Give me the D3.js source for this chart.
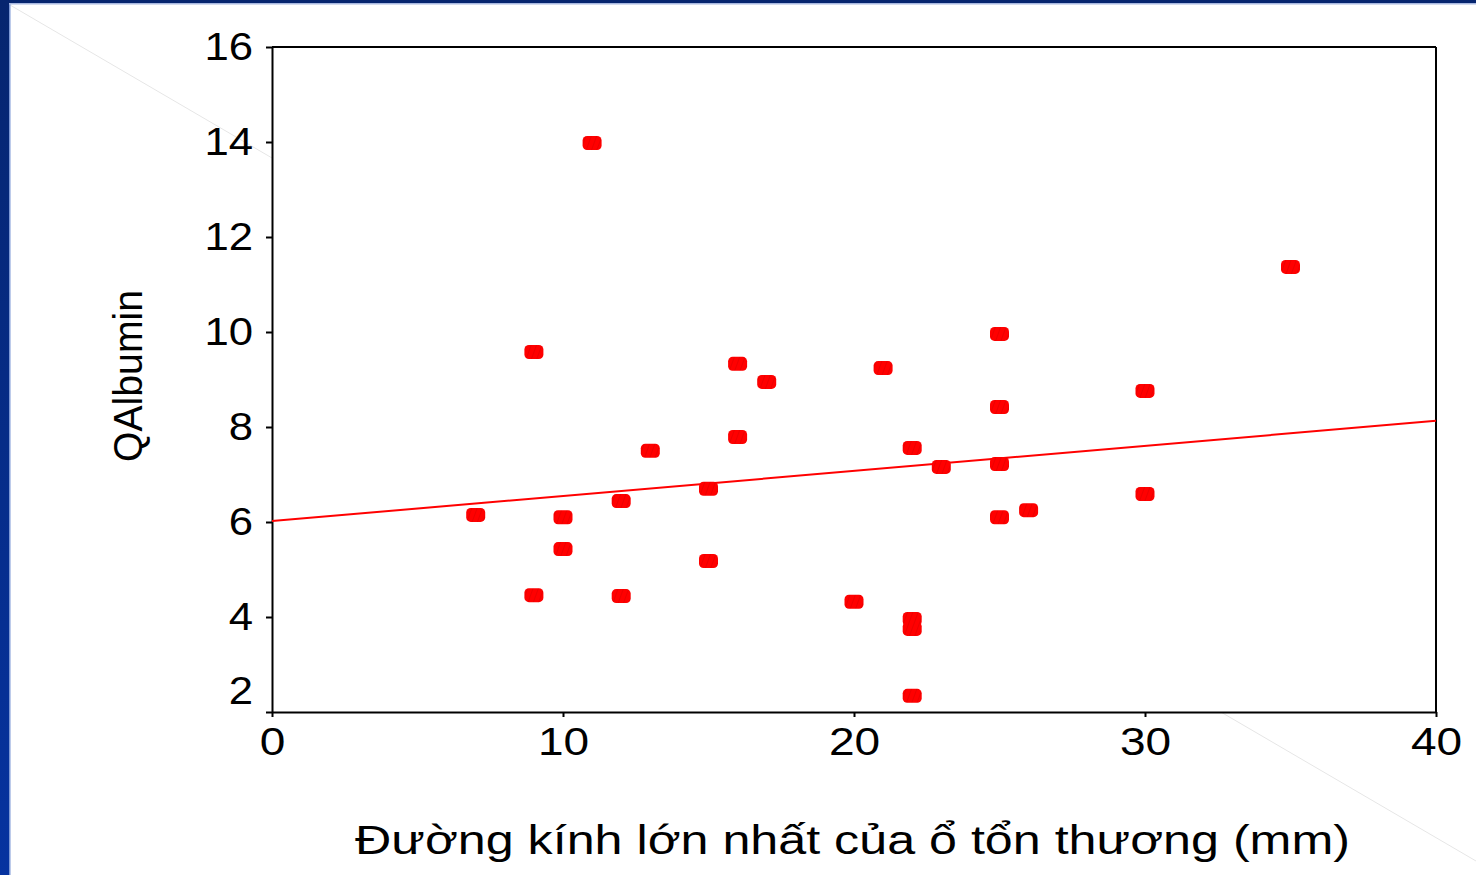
<!DOCTYPE html>
<html>
<head>
<meta charset="utf-8">
<script src="https://cdn.jsdelivr.net/npm/d3@7"></script>
<style>
  body { margin: 0; background: #fff; }
  svg { display: block; }
  .axis text { font-family: "Liberation Sans", Arial, sans-serif; font-size: 39px; fill: #000; }
  .axis path, .axis line { stroke: #000; stroke-width: 2; }
</style>
</head>
<body>
<div id="chart"></div>
<script>
// lesion diameter (mm) and QAlbumin
const diameter = [7, 9, 9, 11, 10, 10, 12, 12, 13, 15, 15, 16, 16, 17, 20, 21, 22, 22, 22, 22, 23, 25, 25, 25, 25, 26, 30, 30, 35];
const qAlbumin = [6.15, 9.58, 4.46, 13.98, 6.1, 5.43, 6.44, 4.44, 7.5, 6.7, 5.18, 9.33, 7.79, 8.95, 4.32, 9.24, 7.56, 3.96, 3.75, 2.34, 7.16, 9.96, 8.42, 7.22, 6.1, 6.25, 8.76, 6.59, 11.37];
// fitted line end points
const fitX = [0, 40];
const fitY = [6.02, 8.13];
const xTicks = [0, 10, 20, 30, 40];
const yTicks = [2, 4, 6, 8, 10, 12, 14, 16];
const xTitle = "Đường kính lớn nhất của ổ tổn thương (mm)";
const yTitle = "QAlbumin";

const W = 1476, H = 875;
const margin = { top: 47, right: 40, bottom: 163, left: 272 };
const width = W - margin.left - margin.right,
    height = H - margin.top - margin.bottom;

let svg = d3.select("#chart")
    .append("svg")
    .attr("width", W)
    .attr("height", H);

// slide frame
let defs = svg.append("defs");
let grad = defs.append("linearGradient").attr("id", "blue").attr("x1", 0).attr("y1", 0).attr("x2", 0).attr("y2", 1);
grad.append("stop").attr("offset", "0%").attr("stop-color", "#06256f");
grad.append("stop").attr("offset", "100%").attr("stop-color", "#0633a0");

let hatch = defs.append("pattern")
    .attr("id", "hatch")
    .attr("patternUnits", "userSpaceOnUse")
    .attr("width", 5).attr("height", 5)
    .attr("patternTransform", "rotate(20)");
hatch.append("rect").attr("width", 5).attr("height", 5).attr("fill", "#ff0000");
hatch.append("line").attr("x1", 0).attr("y1", 0).attr("x2", 0).attr("y2", 5)
    .attr("stroke", "#e00000").attr("stroke-width", 1.2);

svg.append("rect").attr("width", W).attr("height", H).attr("fill", "#fff");
svg.append("line")
    .attr("x1", 10).attr("y1", 5).attr("x2", W).attr("y2", 861)
    .attr("stroke", "#e6e6e6").attr("stroke-width", 1);
svg.append("rect").attr("x", 0).attr("y", 0).attr("width", 9).attr("height", H).attr("fill", "url(#blue)");
svg.append("rect").attr("x", 0).attr("y", 0).attr("width", W).attr("height", 3).attr("fill", "#06256f");
svg.append("rect").attr("x", 9).attr("y", 3).attr("width", 1.5).attr("height", H).attr("fill", "#7c98d6");
svg.append("rect").attr("x", 9).attr("y", 3).attr("width", W).attr("height", 1.5).attr("fill", "#a8b8e0");

let group = svg.append("g")
    .attr("transform", "translate(" + margin.left + "," + margin.top + ")");

let xScale = d3.scaleLinear().domain([0, 40]).range([0, width]);
let yScale = d3.scaleLinear().domain([2, 16]).range([height, 0]);

// plot area covers the slide line
group.append("rect")
    .attr("width", width).attr("height", height)
    .attr("fill", "#fff");

const xAxis = d3.axisBottom(xScale).tickValues(xTicks).tickSize(5).tickPadding(10).tickSizeOuter(0);
const yAxis = d3.axisLeft(yScale).tickValues(yTicks).tickSize(6).tickPadding(13).tickSizeOuter(0);

group.append("g")
    .attr("class", "axis x-axis")
    .attr("transform", `translate(0, ${height})`)
    .call(xAxis);

let yDisplay = group.append("g")
    .attr("class", "axis y-axis")
    .call(yAxis);
yDisplay.selectAll(".tick text")
    .filter(d => d === 2)
    .attr("dy", "-0.22em");

// the original labels are drawn a little wider than the font
group.selectAll(".x-axis .tick text").each(function() {
    d3.select(this).attr("textLength", this.getComputedTextLength() * 1.18).attr("lengthAdjust", "spacingAndGlyphs");
});
yDisplay.selectAll(".tick text").each(function() {
    d3.select(this).attr("textLength", this.getComputedTextLength() * 1.12).attr("lengthAdjust", "spacingAndGlyphs");
});

// frame top and right
group.append("line").attr("x1", 0).attr("x2", width).attr("y1", 0).attr("y2", 0)
    .attr("stroke", "#000").attr("stroke-width", 2);
group.append("line").attr("x1", width).attr("x2", width).attr("y1", 0).attr("y2", height)
    .attr("stroke", "#000").attr("stroke-width", 2);

// fit line
let line = d3.line()
    .x(d => xScale(d[0]))
    .y(d => yScale(d[1]));
group.append("path")
    .datum(d3.zip(fitX, fitY))
    .attr("d", line)
    .attr("fill", "none")
    .attr("stroke", "#ff0000")
    .attr("stroke-width", 2);

// points
group.selectAll(".pt")
    .data(d3.zip(diameter, qAlbumin))
    .enter()
    .append("rect")
    .attr("class", "pt")
    .attr("x", d => xScale(d[0]) - 9.5)
    .attr("y", d => yScale(d[1]) - 7)
    .attr("width", 19)
    .attr("height", 14)
    .attr("rx", 4.5)
    .attr("fill", "url(#hatch)");

// axis titles
svg.append("text")
    .attr("x", 355).attr("y", 854)
    .attr("textLength", 995)
    .attr("lengthAdjust", "spacingAndGlyphs")
    .style("font-family", "Liberation Sans, Arial, sans-serif")
    .style("font-size", "40px")
    .text(xTitle);

svg.append("text")
    .attr("transform", "translate(142, 462) rotate(-90)")
    .attr("textLength", 172)
    .attr("lengthAdjust", "spacingAndGlyphs")
    .style("font-family", "Liberation Sans, Arial, sans-serif")
    .style("font-size", "40px")
    .text(yTitle);
</script>
</body>
</html>
